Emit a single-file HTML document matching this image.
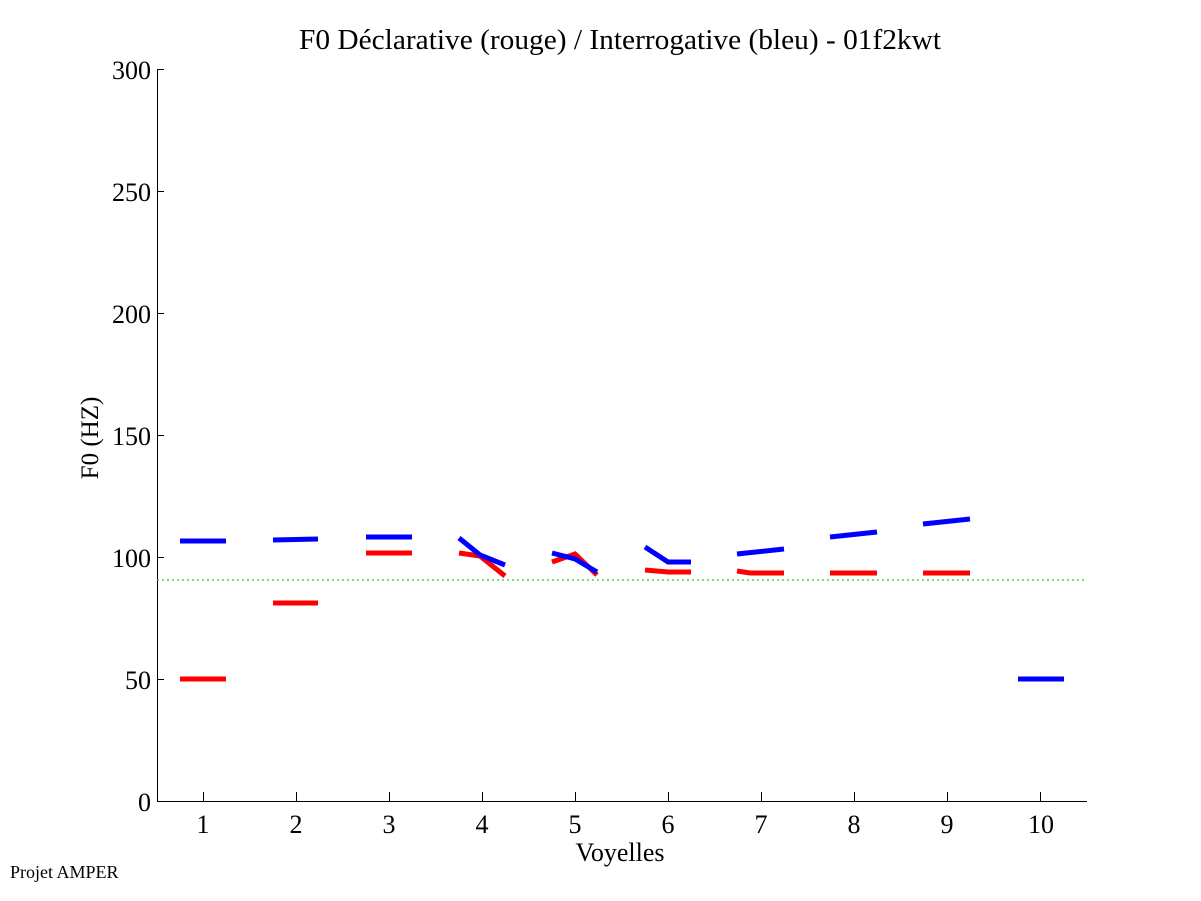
<!DOCTYPE html>
<html><head><meta charset="utf-8"><style>body{margin:0;background:#fff}svg{display:block}text{font-family:"Liberation Serif",serif;fill:#000}</style></head>
<body>
<svg width="1201" height="901" viewBox="0 0 1201 901">
<rect width="1201" height="901" fill="#fff"/>
<text x="620" y="49" font-size="28" text-anchor="middle" textLength="642" lengthAdjust="spacingAndGlyphs">F0 Déclarative (rouge) / Interrogative (bleu) - 01f2kwt</text>
<g stroke="#000" stroke-width="1" fill="none">
<path d="M157.5 69V801.5H1087"/>
<path d="M157 69.5h7M157 191.5h7M157 313.5h7M157 435.5h7M157 557.5h7M157 679.5h7"/>
<path d="M203.5 801v-9M296.5 801v-9M389.5 801v-9M482.5 801v-9M575.5 801v-9M668.5 801v-9M761.5 801v-9M854.5 801v-9M947.5 801v-9M1040.5 801v-9"/>
</g>
<g font-size="26" text-anchor="end">
<text x="151" y="79">300</text><text x="151" y="201">250</text><text x="151" y="323">200</text><text x="151" y="445">150</text><text x="151" y="567">100</text><text x="151" y="689">50</text><text x="151" y="811">0</text>
</g>
<g font-size="26" text-anchor="middle">
<text x="203" y="833">1</text><text x="296" y="833">2</text><text x="389" y="833">3</text><text x="482" y="833">4</text><text x="575" y="833">5</text><text x="668" y="833">6</text><text x="761" y="833">7</text><text x="854" y="833">8</text><text x="947" y="833">9</text><text x="1041" y="833">10</text>
<text x="620" y="861">Voyelles</text>
</g>
<text x="98" y="438" font-size="25" text-anchor="middle" transform="rotate(-90 98 438)">F0 (HZ)</text>
<text x="10" y="878" font-size="18">Projet AMPER</text>
<line x1="157" y1="580" x2="1087" y2="580" stroke="#2c2" stroke-width="1.3" stroke-dasharray="2,3"/>
<g fill="none" stroke="#f00" stroke-width="5">
<path d="M180 679H226"/><path d="M273 603H318"/><path d="M366 553H412"/>
<path d="M459 553L480 556L505 576"/><path d="M552 562L575 554L597 575"/>
<path d="M645 570L668 572L691 572"/><path d="M737 571L750 573L784 573"/>
<path d="M830 573H877"/><path d="M923 573H970"/>
</g>
<g fill="none" stroke="#00f" stroke-width="5">
<path d="M180 541H226"/><path d="M273 540L318 539"/><path d="M366 537H412"/>
<path d="M459 538L480 555L505 565"/><path d="M552 553L575 559L597 572"/>
<path d="M645 547L668 562L691 562"/><path d="M737 554L784 549"/>
<path d="M830 537L877 532"/><path d="M923 524L970 519"/><path d="M1018 679H1064"/>
</g>
</svg>
</body></html>
